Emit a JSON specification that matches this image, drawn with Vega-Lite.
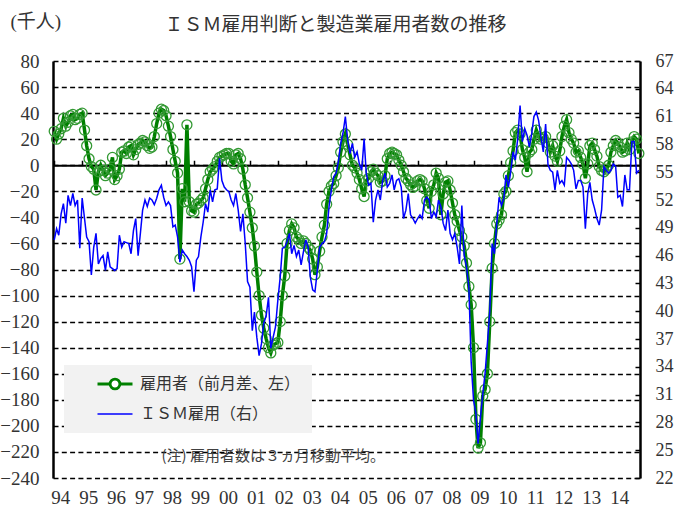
{
  "$schema": "https://vega.github.io/schema/vega-lite/v6.json",
  "width": 587,
  "height": 417,
  "autosize": {"type": "none"},
  "padding": {"left": 53, "top": 61, "right": 38, "bottom": 38},
  "background": "white",
  "title": {"text": "ＩＳＭ雇用判断と製造業雇用者数の推移", "font": "Noto Sans CJK JP", "fontSize": 19, "fontWeight": "normal", "color": "#333333", "anchor": "middle", "frame": "group", "dx": -11, "offset": 0, "dy": 23},
  "config": {
    "view": {"stroke": null},
    "axis": {"labelFont": "Liberation Serif", "labelColor": "#333333", "titleColor": "#333333"}
  },
  "data": {
    "format": {"parse": {"m": "utc:'%Y-%m'"}},
    "values": [
      {"m":"1994-01","e":26,"i":47.7},{"m":"1994-02","e":20,"i":48.9},{"m":"1994-03","e":24,"i":48.2},{"m":"1994-04","e":28,"i":50.5},{"m":"1994-05","e":36,"i":51.6},{"m":"1994-06","e":30,"i":49.5},{"m":"1994-07","e":33,"i":52.5},{"m":"1994-08","e":38,"i":51.4},{"m":"1994-09","e":39,"i":52.7},{"m":"1994-10","e":35,"i":51.4},{"m":"1994-11","e":36,"i":52.0},{"m":"1994-12","e":39,"i":46.8},
      {"m":"1995-01","e":40,"i":52.2},{"m":"1995-02","e":27,"i":50.0},{"m":"1995-03","e":15,"i":48.0},{"m":"1995-04","e":5,"i":47.5},{"m":"1995-05","e":-1,"i":43.9},{"m":"1995-06","e":-3,"i":46.9},{"m":"1995-07","e":-19,"i":48.4},{"m":"1995-08","e":-5,"i":45.1},{"m":"1995-09","e":0,"i":45.7},{"m":"1995-10","e":-4,"i":46.0},{"m":"1995-11","e":-8,"i":44.4},{"m":"1995-12","e":-6,"i":46.4},
      {"m":"1996-01","e":-3,"i":44.8},{"m":"1996-02","e":6,"i":44.6},{"m":"1996-03","e":-11,"i":44.4},{"m":"1996-04","e":-8,"i":44.6},{"m":"1996-05","e":-3,"i":48.2},{"m":"1996-06","e":10,"i":46.9},{"m":"1996-07","e":11,"i":47.5},{"m":"1996-08","e":9,"i":47.4},{"m":"1996-09","e":14,"i":47.3},{"m":"1996-10","e":15,"i":46.2},{"m":"1996-11","e":8,"i":48.7},{"m":"1996-12","e":12,"i":50.0},
      {"m":"1997-01","e":16,"i":46.0},{"m":"1997-02","e":17,"i":48.5},{"m":"1997-03","e":19,"i":50.9},{"m":"1997-04","e":18,"i":52.0},{"m":"1997-05","e":15,"i":51.3},{"m":"1997-06","e":13,"i":52.2},{"m":"1997-07","e":14,"i":52.0},{"m":"1997-08","e":22,"i":51.5},{"m":"1997-09","e":32,"i":52.2},{"m":"1997-10","e":40,"i":53.1},{"m":"1997-11","e":43,"i":53.6},{"m":"1997-12","e":42,"i":52.3},
      {"m":"1998-01","e":38,"i":51.4},{"m":"1998-02","e":30,"i":51.8},{"m":"1998-03","e":22,"i":51.4},{"m":"1998-04","e":12,"i":49.1},{"m":"1998-05","e":3,"i":49.3},{"m":"1998-06","e":-6,"i":48.0},{"m":"1998-07","e":-72,"i":45.3},{"m":"1998-08","e":-18,"i":46.6},{"m":"1998-09","e":-28,"i":46.2},{"m":"1998-10","e":31,"i":45.9},{"m":"1998-11","e":-28,"i":45.5},{"m":"1998-12","e":-35,"i":44.8},
      {"m":"1999-01","e":-36,"i":42.1},{"m":"1999-02","e":-30,"i":45.5},{"m":"1999-03","e":-29,"i":45.9},{"m":"1999-04","e":-27,"i":48.0},{"m":"1999-05","e":-25,"i":49.6},{"m":"1999-06","e":-18,"i":51.6},{"m":"1999-07","e":-11,"i":50.7},{"m":"1999-08","e":-5,"i":53.1},{"m":"1999-09","e":-3,"i":51.8},{"m":"1999-10","e":-1,"i":53.1},{"m":"1999-11","e":3,"i":53.2},{"m":"1999-12","e":6,"i":56.5},
      {"m":"2000-01","e":7,"i":54.1},{"m":"2000-02","e":8,"i":53.4},{"m":"2000-03","e":9,"i":53.1},{"m":"2000-04","e":9,"i":52.9},{"m":"2000-05","e":3,"i":52.0},{"m":"2000-06","e":1,"i":51.4},{"m":"2000-07","e":8,"i":52.7},{"m":"2000-08","e":9,"i":50.9},{"m":"2000-09","e":5,"i":48.6},{"m":"2000-10","e":-3,"i":50.5},{"m":"2000-11","e":-15,"i":47.3},{"m":"2000-12","e":-25,"i":43.2},
      {"m":"2001-01","e":-36,"i":42.6},{"m":"2001-02","e":-48,"i":37.9},{"m":"2001-03","e":-62,"i":39.9},{"m":"2001-04","e":-82,"i":37.2},{"m":"2001-05","e":-100,"i":35.2},{"m":"2001-06","e":-115,"i":36.5},{"m":"2001-07","e":-125,"i":38.7},{"m":"2001-08","e":-133,"i":39.5},{"m":"2001-09","e":-140,"i":41.5},{"m":"2001-10","e":-144,"i":36.0},{"m":"2001-11","e":-138,"i":37.2},{"m":"2001-12","e":-137,"i":38.3},
      {"m":"2002-01","e":-136,"i":41.2},{"m":"2002-02","e":-120,"i":43.7},{"m":"2002-03","e":-100,"i":46.8},{"m":"2002-04","e":-85,"i":46.9},{"m":"2002-05","e":-60,"i":47.5},{"m":"2002-06","e":-50,"i":48.4},{"m":"2002-07","e":-45,"i":46.2},{"m":"2002-08","e":-48,"i":47.1},{"m":"2002-09","e":-55,"i":45.9},{"m":"2002-10","e":-57,"i":46.6},{"m":"2002-11","e":-60,"i":45.0},{"m":"2002-12","e":-58,"i":46.4},
      {"m":"2003-01","e":-60,"i":47.7},{"m":"2003-02","e":-63,"i":46.9},{"m":"2003-03","e":-65,"i":43.7},{"m":"2003-04","e":-72,"i":42.3},{"m":"2003-05","e":-84,"i":42.1},{"m":"2003-06","e":-78,"i":44.4},{"m":"2003-07","e":-66,"i":46.9},{"m":"2003-08","e":-55,"i":47.3},{"m":"2003-09","e":-46,"i":47.5},{"m":"2003-10","e":-30,"i":48.4},{"m":"2003-11","e":-20,"i":51.3},{"m":"2003-12","e":-16,"i":53.1},
      {"m":"2004-01","e":-14,"i":54.5},{"m":"2004-02","e":-8,"i":54.9},{"m":"2004-03","e":-2,"i":56.1},{"m":"2004-04","e":10,"i":58.1},{"m":"2004-05","e":18,"i":59.2},{"m":"2004-06","e":24,"i":61.0},{"m":"2004-07","e":16,"i":58.5},{"m":"2004-08","e":8,"i":57.0},{"m":"2004-09","e":0,"i":58.1},{"m":"2004-10","e":-2,"i":56.6},{"m":"2004-11","e":-6,"i":57.2},{"m":"2004-12","e":-11,"i":55.9},
      {"m":"2005-01","e":-18,"i":55.2},{"m":"2005-02","e":-24,"i":58.6},{"m":"2005-03","e":-12,"i":54.9},{"m":"2005-04","e":-10,"i":53.6},{"m":"2005-05","e":-5,"i":53.8},{"m":"2005-06","e":-3,"i":49.6},{"m":"2005-07","e":-6,"i":52.0},{"m":"2005-08","e":-8,"i":53.1},{"m":"2005-09","e":-13,"i":52.0},{"m":"2005-10","e":-12,"i":54.1},{"m":"2005-11","e":-8,"i":54.9},{"m":"2005-12","e":5,"i":53.4},
      {"m":"2006-01","e":9,"i":53.8},{"m":"2006-02","e":10,"i":54.7},{"m":"2006-03","e":9,"i":53.1},{"m":"2006-04","e":8,"i":54.1},{"m":"2006-05","e":4,"i":54.3},{"m":"2006-06","e":0,"i":53.4},{"m":"2006-07","e":-5,"i":50.0},{"m":"2006-08","e":-10,"i":50.9},{"m":"2006-09","e":-12,"i":52.7},{"m":"2006-10","e":-15,"i":50.4},{"m":"2006-11","e":-17,"i":50.0},{"m":"2006-12","e":-16,"i":49.5},
      {"m":"2007-01","e":-12,"i":50.0},{"m":"2007-02","e":-11,"i":50.4},{"m":"2007-03","e":-12,"i":50.0},{"m":"2007-04","e":-18,"i":52.0},{"m":"2007-05","e":-27,"i":52.3},{"m":"2007-06","e":-33,"i":52.0},{"m":"2007-07","e":-20,"i":50.0},{"m":"2007-08","e":-15,"i":50.7},{"m":"2007-09","e":-6,"i":50.2},{"m":"2007-10","e":-10,"i":52.0},{"m":"2007-11","e":-38,"i":51.3},{"m":"2007-12","e":-22,"i":49.5},
      {"m":"2008-01","e":-13,"i":48.7},{"m":"2008-02","e":-12,"i":50.9},{"m":"2008-03","e":-19,"i":48.4},{"m":"2008-04","e":-29,"i":47.7},{"m":"2008-05","e":-38,"i":48.4},{"m":"2008-06","e":-43,"i":46.9},{"m":"2008-07","e":-50,"i":45.1},{"m":"2008-08","e":-55,"i":51.4},{"m":"2008-09","e":-62,"i":46.0},{"m":"2008-10","e":-75,"i":44.8},{"m":"2008-11","e":-93,"i":42.6},{"m":"2008-12","e":-107,"i":34.5},
      {"m":"2009-01","e":-140,"i":30.4},{"m":"2009-02","e":-195,"i":29.0},{"m":"2009-03","e":-217,"i":25.7},{"m":"2009-04","e":-213,"i":28.5},{"m":"2009-05","e":-177,"i":31.0},{"m":"2009-06","e":-172,"i":33.3},{"m":"2009-07","e":-160,"i":36.5},{"m":"2009-08","e":-120,"i":40.0},{"m":"2009-09","e":-79,"i":47.3},{"m":"2009-10","e":-60,"i":46.2},{"m":"2009-11","e":-45,"i":49.5},{"m":"2009-12","e":-42,"i":52.3},
      {"m":"2010-01","e":-38,"i":51.4},{"m":"2010-02","e":-22,"i":52.2},{"m":"2010-03","e":-20,"i":54.7},{"m":"2010-04","e":-8,"i":53.4},{"m":"2010-05","e":2,"i":55.0},{"m":"2010-06","e":11,"i":57.2},{"m":"2010-07","e":25,"i":56.3},{"m":"2010-08","e":27,"i":58.6},{"m":"2010-09","e":24,"i":62.2},{"m":"2010-10","e":12,"i":58.3},{"m":"2010-11","e":6,"i":59.7},{"m":"2010-12","e":-5,"i":59.0},
      {"m":"2011-01","e":10,"i":57.7},{"m":"2011-02","e":12,"i":59.2},{"m":"2011-03","e":20,"i":61.0},{"m":"2011-04","e":27,"i":61.5},{"m":"2011-05","e":22,"i":60.6},{"m":"2011-06","e":20,"i":58.8},{"m":"2011-07","e":21,"i":57.2},{"m":"2011-08","e":22,"i":60.2},{"m":"2011-09","e":17,"i":55.8},{"m":"2011-10","e":10,"i":55.2},{"m":"2011-11","e":15,"i":55.0},{"m":"2011-12","e":7,"i":53.1},
      {"m":"2012-01","e":3,"i":55.2},{"m":"2012-02","e":11,"i":53.8},{"m":"2012-03","e":22,"i":54.1},{"m":"2012-04","e":30,"i":53.6},{"m":"2012-05","e":35,"i":56.6},{"m":"2012-06","e":25,"i":56.3},{"m":"2012-07","e":20,"i":55.9},{"m":"2012-08","e":17,"i":55.2},{"m":"2012-09","e":10,"i":53.2},{"m":"2012-10","e":11,"i":54.1},{"m":"2012-11","e":6,"i":54.1},{"m":"2012-12","e":1,"i":53.4},
      {"m":"2013-01","e":-10,"i":48.9},{"m":"2013-02","e":1,"i":52.7},{"m":"2013-03","e":15,"i":53.9},{"m":"2013-04","e":17,"i":52.0},{"m":"2013-05","e":12,"i":51.1},{"m":"2013-06","e":7,"i":50.0},{"m":"2013-07","e":-1,"i":49.3},{"m":"2013-08","e":-4,"i":50.9},{"m":"2013-09","e":-5,"i":55.6},{"m":"2013-10","e":-3,"i":55.2},{"m":"2013-11","e":0,"i":54.9},{"m":"2013-12","e":10,"i":55.2},
      {"m":"2014-01","e":15,"i":55.9},{"m":"2014-02","e":19,"i":55.6},{"m":"2014-03","e":17,"i":52.3},{"m":"2014-04","e":14,"i":52.5},{"m":"2014-05","e":10,"i":51.3},{"m":"2014-06","e":11,"i":54.7},{"m":"2014-07","e":17,"i":53.1},{"m":"2014-08","e":12,"i":53.1},{"m":"2014-09","e":18,"i":58.3},{"m":"2014-10","e":22,"i":58.3},{"m":"2014-11","e":20,"i":54.9},{"m":"2014-12","e":9,"i":55.2}
    ]
  },
  "layer": [
    {
      "mark": {"type": "line", "strokeWidth": 3.5, "point": {"shape": "circle", "filled": false, "size": 100, "strokeWidth": 1.3, "stroke": "#339933", "opacity": 1}},
      "encoding": {
        "x": {
          "field": "m", "type": "temporal",
          "scale": {"type": "utc", "domain": [{"year": 1993, "month": 12, "date": 16, "utc": true}, {"year": 2014, "month": 12, "date": 16, "utc": true}]},
          "axis": {"orient": "bottom", "labelExpr": "utcFormat(datum.value, '%y')", "tickCount": {"interval": "year", "step": 1}, "grid": false, "domain": false, "ticks": false, "labelPadding": 10, "labelOffset": 6, "labelFontSize": 19, "labelFlush": false, "labelOverlap": false,
                   "title": "(注) 雇用者数は３ヵ月移動平均。", "titleFont": "Noto Sans CJK JP", "titleFontSize": 15, "titleFontWeight": "normal", "titleColor": "#404040", "titleAnchor": "start", "titleAlign": "left", "titleBaseline": "middle", "titleX": 108, "titleY": -23}
        },
        "y": {
          "field": "e", "type": "quantitative",
          "scale": {"domain": [-240, 80], "nice": false, "zero": false},
          "axis": {"orient": "left", "values": [-240, -220, -200, -180, -160, -140, -120, -100, -80, -60, -40, -20, 0, 20, 40, 60, 80], "grid": true, "gridColor": "black", "gridDash": [5, 3.3], "gridWidth": 1.6, "domain": true, "domainColor": "black", "domainWidth": 2.5, "ticks": false, "labelFontSize": 19, "labelPadding": 14, "labelOverlap": false, "title": "(千人)", "titleFont": "Liberation Serif, Noto Sans CJK JP", "titleFontSize": 19, "titleFontWeight": "normal", "titleAngle": 0, "titleX": -43, "titleY": -40, "titleAlign": "left", "titleBaseline": "middle"}
        },
        "color": {
          "datum": "雇用者（前月差、左）", "type": "nominal",
          "scale": {"domain": ["雇用者（前月差、左）", "ＩＳＭ雇用（右）"], "range": ["#008000", "#0000ff"]},
          "legend": {
            "title": null, "orient": "none", "legendX": 11, "legendY": 304, "fillColor": "#f2f2f2", "padding": 11, "rowPadding": 11,
            "symbolSize": 196, "symbolOffset": 32, "labelOffset": 17, "labelFont": "Noto Sans CJK JP", "labelFontSize": 16, "labelColor": "#333333", "labelLimit": 400,
            "encode": {"symbols": {"update": {
              "shape": {"signal": "datum.value === '雇用者（前月差、左）' ? 'M-2.5,0L-0.7,0M0.7,0L2.5,0M-0.7,0A0.7,0.7 0 1,1 0.7,0A0.7,0.7 0 1,1 -0.7,0' : 'M-2.5,0L2.5,0'"},
              "strokeWidth": {"signal": "datum.value === '雇用者（前月差、左）' ? 2.8 : 1.6"},
              "fill": {"signal": "datum.value === '雇用者（前月差、左）' ? 'white' : 'transparent'"}
            }}}
          }
        }
      }
    },
    {
      "mark": {"type": "line", "strokeWidth": 1.5},
      "encoding": {
        "x": {
          "field": "m", "type": "temporal",
          "axis": {"orient": "top", "offset": -104.25, "title": null, "labels": false, "domain": true, "domainColor": "black", "domainWidth": 2.2, "grid": false, "ticks": true, "tickSize": 5, "tickColor": "black", "tickWidth": 1.5, "tickCount": {"interval": "year", "step": 1}}
        },
        "y": {
          "field": "i", "type": "quantitative",
          "scale": {"domain": [22, 67], "nice": false, "zero": false},
          "axis": {"orient": "right", "values": [22, 25, 28, 31, 34, 37, 40, 43, 46, 49, 52, 55, 58, 61, 64, 67], "grid": false, "domain": true, "domainColor": "black", "domainWidth": 2.5, "ticks": true, "tickSize": -5, "tickColor": "black", "tickWidth": 1.5, "labelFontSize": 18, "labelPadding": 20, "labelOverlap": false, "title": null}
        },
        "color": {"datum": "ＩＳＭ雇用（右）", "type": "nominal"}
      }
    }
  ],
  "resolve": {"scale": {"y": "independent"}, "axis": {"x": "independent"}}
}
